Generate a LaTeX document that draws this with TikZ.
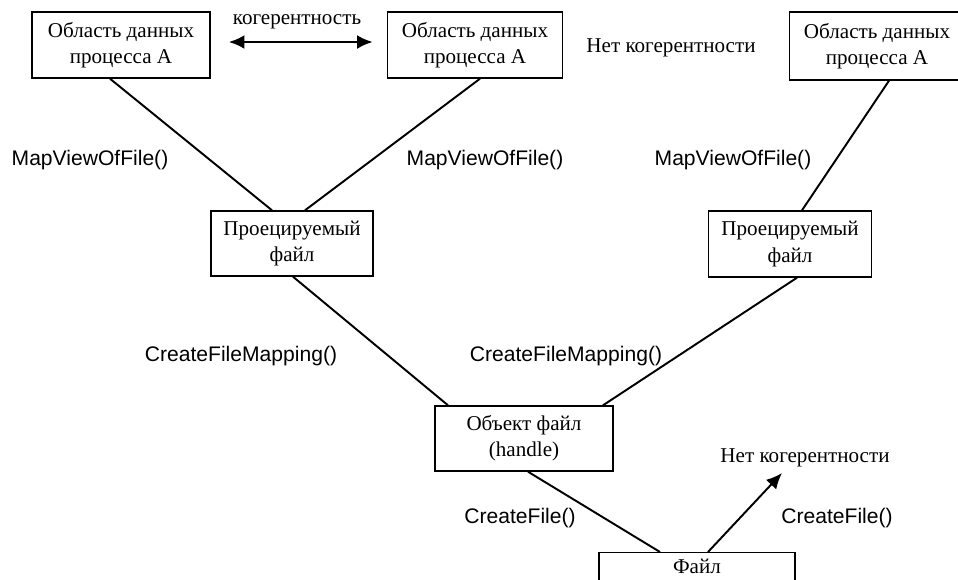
\documentclass[tikz,border=0pt]{standalone}
\usepackage{fontspec}
\setmainfont{Liberation Serif}
\setsansfont{Liberation Sans}
\usetikzlibrary{arrows.meta}

\tikzset{
  bloc/.style={draw, line width=0.8pt, align=center, font=\fontsize{12}{15}\selectfont,
    minimum width=3.56cm, minimum height=1.32cm, inner sep=0pt},
  appel/.style={font=\sffamily\fontsize{12}{14}\selectfont},
  legende/.style={font=\fontsize{12}{14}\selectfont},
  lien/.style={line width=1.1pt},
  pointe/.style={-{Latex[length=9pt,width=8pt]}},
}

\begin{document}
\begin{tikzpicture}[x=0.02cm, y=-0.02cm]

\useasboundingbox (0,0) rectangle (958,579);

% Zones de données
\node[bloc] (zoneA) at (121,45) {Область данных\\процесса A};
\node[bloc, minimum width=3.5cm] (zoneB) at (475,45) {Область данных\\процесса A};
\node[bloc, minimum width=3.5cm, minimum height=1.36cm] (zoneC) at (877,46) {Область данных\\процесса A};

\node[legende] (coh) at (297,22) {когерентность};
\node[legende] (nocoh) at (671,48) {Нет когерентности};

\draw[line width=1.5pt, {Latex[length=9pt,width=8pt]}-{Latex[length=9pt,width=8pt]},
  shorten <=18*0.02cm, shorten >=14*0.02cm]
  ([yshift=3*0.02cm]zoneA.east) -- ([yshift=3*0.02cm]zoneB.west);

% Fichiers projetés
\node[bloc, minimum width=3.24cm, minimum height=1.3cm] (proj1) at (292,243.5) {Проецируемый\\файл};
\node[bloc, minimum width=3.26cm, minimum height=1.32cm] (proj2) at (790,244) {Проецируемый\\файл};

\draw[lien] ([xshift=-11*0.02cm]zoneA.south) -- ([xshift=-20*0.02cm]proj1.north);
\draw[lien] ([xshift=5*0.02cm]zoneB.south) -- ([xshift=13*0.02cm]proj1.north);
\draw[lien] ([xshift=12*0.02cm]zoneC.south) -- ([xshift=12*0.02cm]proj2.north);

\node[appel] (map1) at (90,160) {MapViewOfFile()};
\node[appel] (map2) at (485,160) {MapViewOfFile()};
\node[appel] (map3) at (733,160) {MapViewOfFile()};

% Objet fichier
\node[bloc, minimum height=1.3cm] (objet) at (524,438.5) {Объект файл\\(handle)};

\draw[lien] ([xshift=1*0.02cm]proj1.south) -- ([xshift=-76*0.02cm]objet.north);
\draw[lien] ([xshift=7*0.02cm]proj2.south) -- ([xshift=79*0.02cm]objet.north);

\node[appel] (cfm1) at (241,356) {CreateFileMapping()};
\node[appel] (cfm2) at (566,356) {CreateFileMapping()};

% Fichier
\node[bloc, minimum width=3.92cm, minimum height=0pt, anchor=north, inner ysep=3.5pt,
  text depth=30pt] (fich) at (697,552) {Файл};

\draw[lien] ([xshift=4*0.02cm]objet.south) -- ([xshift=-37*0.02cm]fich.north);

\node[legende] (nocoh2) at (805,458) {Нет когерентности};
\coordinate (bout) at (782,473);
\draw[lien, pointe] ([xshift=11*0.02cm]fich.north) -- (bout);

\node[appel] (cf1) at (520,518) {CreateFile()};
\node[appel] (cf2) at (837,518) {CreateFile()};

\end{tikzpicture}
\end{document}
